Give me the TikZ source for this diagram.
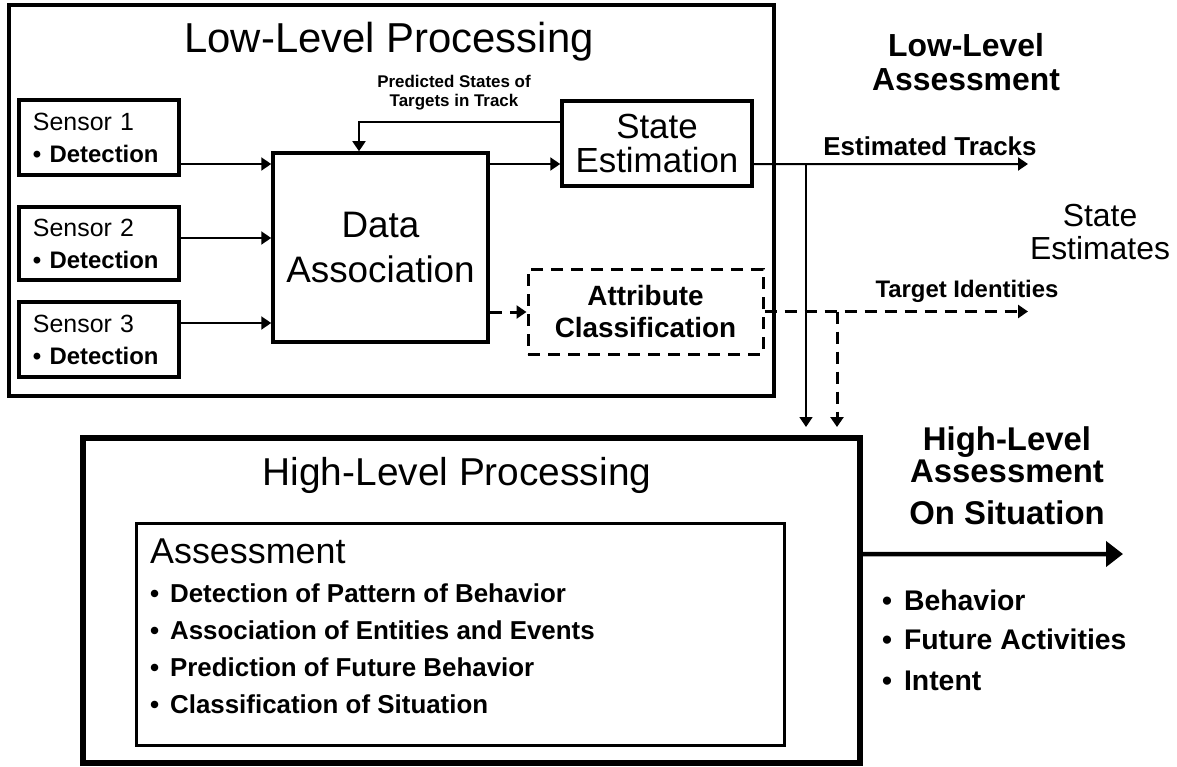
\documentclass[tikz,border=0pt]{standalone}
\usepackage{fontspec}
\setmainfont{Liberation Sans}
\usetikzlibrary{arrows.meta,calc}
\newcommand{\bul}{•\hspace{0.42em}}
\begin{document}
\begin{tikzpicture}[x=1bp,y=-1bp,
  box/.style={draw, line width=3.5bp, inner sep=0pt},
  dbox/.style={draw, line width=3bp, dash pattern=on 12bp off 8bp, inner sep=0pt},
  conn/.style={line width=2bp, -{Triangle[length=10bp,width=13bp]}},
  thin/.style={line width=1.6bp, -{Triangle[length=10bp,width=13bp]}},
  dconn/.style={line width=3bp, dash pattern=on 12bp off 8bp, -{Triangle[length=10bp,width=13bp]}},
  txt/.style={inner sep=0pt},
]
\useasboundingbox (0,0) rectangle (1177,767);
\fill[white] (0,0) rectangle (1177,767);

% ---------- Low-level processing ----------
\node[draw, line width=4bp, minimum width=765bp, minimum height=391bp, inner sep=0pt] (low) at (391.5,200.5) {};
\node[txt, anchor=base, font=\fontsize{42}{42}\selectfont] (lowtitle) at (389,53) {Low-Level Processing};

\node[box, minimum width=160bp, minimum height=75bp, text width=132bp, align=left, font=\fontsize{25}{32}\selectfont] (s1) at (99,137.5) {Sensor 1\\\textbf{\fontsize{24}{32}\selectfont• Detection}};
\node[box, minimum width=160bp, minimum height=73bp, text width=132bp, align=left, font=\fontsize{25}{32}\selectfont] (s2) at (99,243.5) {Sensor 2\\\textbf{\fontsize{24}{32}\selectfont• Detection}};
\node[box, minimum width=160bp, minimum height=75bp, text width=132bp, align=left, font=\fontsize{25}{32}\selectfont] (s3) at (99,339.5) {Sensor 3\\\textbf{\fontsize{24}{32}\selectfont• Detection}};

\node[box, minimum width=215bp, minimum height=189bp, align=center, font=\fontsize{37}{45}\selectfont] (da) at (380.5,247.5) {Data\\Association};
\node[box, minimum width=190bp, minimum height=85bp, align=center, font=\fontsize{35}{34}\selectfont] (se) at (657,143.5) {State\\Estimation};
\node[dbox, minimum width=235bp, minimum height=85bp, align=center, font=\bfseries\fontsize{28}{32}\selectfont] (attr) at (645.5,311.5) {Attribute\\Classification};

\node[txt, align=center, font=\bfseries\fontsize{17}{19}\selectfont] (pred) at (454,93) {Predicted States of\\Targets in Track};

% sensor arrows
\coordinate (a1) at ([yshift=-26.5bp]s1.east);
\coordinate (a2) at ([yshift=5.5bp]s2.east);
\coordinate (a3) at ([yshift=16.5bp]s3.east);
\draw[conn] (a1) -- (a1 -| da.west);
\draw[conn] (a2) -- (a2 -| da.west);
\draw[conn] (a3) -- (a3 -| da.west);

% DA -> SE, DA -> Attr
\coordinate (b1) at ([yshift=83.5bp]da.east);
\draw[conn] (b1) -- (b1 -| se.west);
\coordinate (b2) at ([yshift=-64.5bp]da.east);
\draw[dconn] (b2) -- (b2 -| attr.west);

% feedback
\coordinate (fb) at ([yshift=21.5bp]se.west);
\draw[thin] (fb) -| ([xshift=-21.5bp]da.north);

% outputs
\coordinate (c1) at ([yshift=-20.5bp]se.east);
\coordinate (tracksend) at (1028,164);
\coordinate (tracksbr) at (806,164);
\coordinate (tracksdown) at (806,427);
\draw[conn] (c1) -- (tracksend);
\draw[thin] (tracksbr) -- (tracksdown);

\coordinate (idend) at (1028,311.5);
\coordinate (idbr) at (837,311.5);
\coordinate (iddown) at (837,427);
\draw[dconn] (attr.east) -- (idend);
\draw[dconn] (idbr) -- (iddown);

\node[txt, align=center, font=\bfseries\fontsize{32}{34}\selectfont] (lla) at (966,62) {Low-Level\\Assessment};
\node[txt, font=\bfseries\fontsize{26}{26}\selectfont] (esttr) at (930,146) {Estimated Tracks};
\node[txt, align=center, font=\fontsize{32}{33}\selectfont] (stest) at (1100,232) {State\\Estimates};
\node[txt, font=\bfseries\fontsize{24}{24}\selectfont] (tid) at (967,291) {Target Identities};

% ---------- High-level processing ----------
\node[draw, line width=6bp, minimum width=777bp, minimum height=325bp, inner sep=0pt] (high) at (471.5,600.5) {};
\node[txt, anchor=base, font=\fontsize{39}{39}\selectfont] (hightitle) at (457,485) {High-Level Processing};

\node[draw, line width=3bp, minimum width=647bp, minimum height=222bp, inner sep=0pt] (assess) at (460.5,634) {};
\node[txt, anchor=base west, font=\fontsize{36}{36}\selectfont] (asstitle) at (150,563) {Assessment};
\node[txt, anchor=base west, font=\bfseries\fontsize{26}{26}\selectfont] (i1) at (150,602) {\bul Detection of Pattern of Behavior};
\node[txt, anchor=base west, font=\bfseries\fontsize{26}{26}\selectfont] (i2) at (150,639) {\bul Association of Entities and Events};
\node[txt, anchor=base west, font=\bfseries\fontsize{26}{26}\selectfont] (i3) at (150,676) {\bul Prediction of Future Behavior};
\node[txt, anchor=base west, font=\bfseries\fontsize{26}{26}\selectfont] (i4) at (150,713) {\bul Classification of Situation};

% output arrow
\coordinate (h1) at ([yshift=46.5bp]high.east);
\coordinate (hend) at (1123,554);
\draw[line width=4.5bp, -{Triangle[length=17bp,width=25bp]}] (h1) -- (hend);

\node[txt, anchor=base, font=\bfseries\fontsize{33}{33}\selectfont] (hla1) at (1007,450) {High-Level};
\node[txt, anchor=base, font=\bfseries\fontsize{33}{33}\selectfont] (hla2) at (1007,482) {Assessment};
\node[txt, anchor=base, font=\bfseries\fontsize{33}{33}\selectfont] (hla3) at (1007,524) {On Situation};

\node[txt, anchor=base west, font=\bfseries\fontsize{28.5}{28.5}\selectfont] (r1) at (882,610) {\bul Behavior};
\node[txt, anchor=base west, font=\bfseries\fontsize{28.5}{28.5}\selectfont] (r2) at (882,649) {\bul Future Activities};
\node[txt, anchor=base west, font=\bfseries\fontsize{28.5}{28.5}\selectfont] (r3) at (882,690) {\bul Intent};
\end{tikzpicture}
\end{document}
